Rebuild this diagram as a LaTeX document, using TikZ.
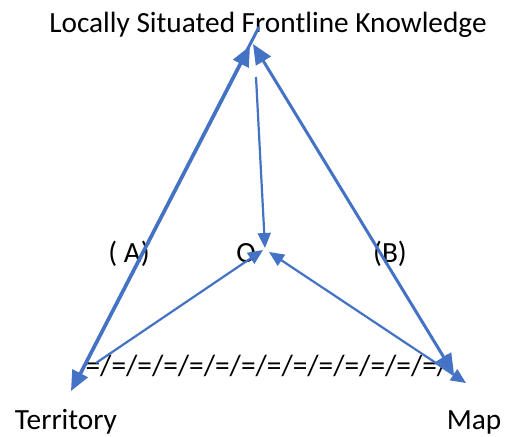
\documentclass[tikz,border=0pt]{standalone}
\usepackage{fontspec}
\setmainfont{Carlito}
\usetikzlibrary{arrows.meta}
\definecolor{lineblue}{HTML}{4472C4}
\begin{document}
\begin{tikzpicture}[x=1pt,y=-1pt,
  lbl/.style={inner sep=0pt, font=\fontsize{29.3}{34}\selectfont, anchor=base},
  thick/.style={draw=lineblue, line width=3pt},
  thinline/.style={draw=lineblue, line width=2.2pt},
  bighead/.style={-{Triangle[length=20pt,width=17pt]}},
  bigboth/.style={{Triangle[length=20pt,width=17pt]}-{Triangle[length=20pt,width=17pt]}},
  smallhead/.style={-{Triangle[length=15pt,width=13pt]}},
  smallboth/.style={{Triangle[length=15pt,width=13pt]}-{Triangle[length=15pt,width=13pt]}}]
\useasboundingbox (0,0) rectangle (510,436);
% labels
\node[lbl] (title) at (268,33) {Locally Situated Frontline Knowledge};
\node[lbl] (terr) at (66,429) {Territory};
\node[lbl] (map) at (474,429) {Map};
\node[lbl] (la) at (129,262) {( A)};
\node[lbl] (lo) at (246,262) {O};
\node[lbl] (lb) at (390,262) {(B)};
\node[lbl] (bar) at (267,375) {=/=/=/=/=/=/=/=/=/=/=/=/=/=/};
% anchor points
\coordinate (topA) at (259,27);
\coordinate (topB) at (250,46);
\coordinate (topC) at (253,44);
\coordinate (topV) at (256,77);
\coordinate (terrA) at (71,391);
\coordinate (terrB) at (79,377);
\coordinate (terrO) at (96,363);
\coordinate (oV) at (265,248);
\coordinate (oL) at (263,250);
\coordinate (oR) at (269,252);
\coordinate (mapA) at (454,374);
\coordinate (mapO) at (466,383);
% connectors
\draw[thick, bighead] (topA) -- (terrA);
\draw[thick, bighead] (terrB) -- (topB);
\draw[thick, bigboth] (topC) -- (mapA);
\draw[thinline, smallhead] (topV) -- (oV);
\draw[thinline, smallhead] (terrO) -- (oL);
\draw[thinline, smallboth] (oR) -- (mapO);
\end{tikzpicture}
\end{document}
